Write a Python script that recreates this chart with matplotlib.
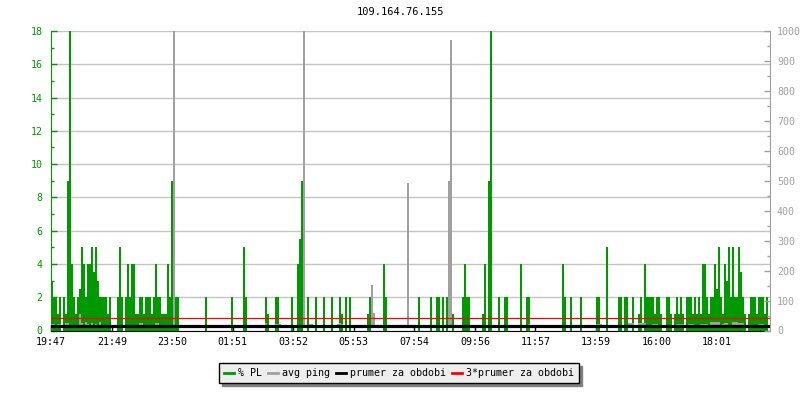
import matplotlib
matplotlib.use("Agg")
import matplotlib.pyplot as plt
from matplotlib.lines import Line2D
import numpy as np

plt.rcParams['font.family'] = ['DejaVu Sans Mono']
plt.rcParams['font.size'] = 7.2

title = "109.164.76.155"
tick_labels = ["19:47", "21:49", "23:50", "01:51", "03:52", "05:53",
               "07:54", "09:56", "11:57", "13:59", "16:00", "18:01"]
bin_minutes = 4          # one sample every 4 minutes, 24 h window

# % packet loss, one row = 30 samples (~2 hours)
pl_rows = [
    [3, 2, 2, 1, 2, 0, 2, 1, 9, 18, 4, 2, 1, 2, 2.5, 5, 4, 2, 4, 4, 5, 3.5, 5, 3, 2, 2, 2, 2, 1, 2],
    [0, 0, 0, 2, 5, 2, 0, 2, 4, 2, 4, 4, 1, 1, 2, 2, 1, 2, 2, 2, 1, 2, 4, 2, 2, 1, 1, 1, 4, 2],
    [9, 2, 2, 2, 0, 0, 0, 0, 0, 0, 0, 0, 0, 0, 0, 0, 0, 2, 0, 0, 0, 0, 0, 0, 0, 0, 0, 0, 0, 0],
    [2, 0, 0, 0, 0, 0, 5, 2, 0, 0, 0, 0, 0, 0, 0, 0, 0, 2, 1, 0, 0, 0, 2, 2, 0, 0, 0, 0, 0, 0],
    [2, 0, 0, 4, 5.5, 9, 0, 0, 2, 0, 0, 0, 2, 0, 0, 0, 2, 0, 0, 0, 2, 0, 0, 0, 2, 1, 0, 2, 0, 2],
    [0, 0, 0, 0, 0, 0, 0, 0, 1, 2, 0, 0, 0, 0, 0, 0, 4, 2, 0, 0, 0, 0, 0, 0, 0, 0, 0, 0, 0, 0],
    [0, 0, 0, 0, 2, 0, 0, 0, 0, 0, 2, 0, 0, 2, 2, 0, 2, 0, 2, 0, 0, 1, 0, 0, 0, 0, 2, 4, 2, 2],
    [0, 0, 0, 0, 0, 0, 1, 4, 0, 9, 18, 0, 0, 0, 2, 0, 0, 2, 2, 0, 0, 0, 0, 0, 0, 4, 0, 0, 2, 2],
    [0, 0, 0, 0, 0, 0, 0, 0, 0, 0, 0, 0, 0, 0, 0, 0, 4, 2, 0, 0, 2, 0, 0, 0, 0, 2, 0, 0, 0, 0],
    [0, 0, 0, 2, 2, 0, 0, 0, 5, 0, 0, 0, 0, 0, 2, 2, 0, 2, 2, 0, 0, 2, 0, 0, 1, 2, 0, 4, 2, 2],
    [2, 2, 1, 2, 2, 1, 0, 0, 2, 2, 1, 0, 1, 2, 1, 2, 1, 0, 2, 2, 2, 1, 2, 1, 2, 1, 4, 4, 2, 1],
    [2, 2, 4, 2.5, 5, 2, 1, 4, 3, 5, 2, 5, 2, 2, 5, 3.5, 2, 1, 0, 1, 2, 2, 2, 1, 2, 2, 2, 1, 2, 0],
]

# avg ping in ms, same sampling
ping_rows = [
    [22, 22, 20, 22, 22, 12, 12, 25, 25, 12, 15, 15, 15, 20, 55, 25, 20, 28, 22, 20, 25, 18, 22, 20, 28, 20, 18, 20, 15, 20],
    [18, 18, 15, 12, 12, 12, 12, 12, 12, 12, 12, 12, 12, 12, 25, 25, 12, 12, 12, 12, 12, 12, 25, 25, 12, 12, 12, 12, 12, 12],
    [20, 1000, 12, 12, 12, 12, 12, 12, 12, 12, 12, 12, 12, 12, 12, 19, 12, 12, 19, 12, 12, 12, 12, 12, 12, 12, 12, 12, 12, 12],
    [12, 19, 12, 12, 12, 12, 12, 12, 12, 12, 12, 12, 20, 12, 12, 12, 12, 25, 12, 12, 12, 12, 22, 22, 22, 12, 12, 12, 12, 12],
    [12, 12, 12, 12, 12, 12, 1000, 12, 12, 21, 21, 12, 12, 12, 12, 20, 20, 12, 12, 12, 12, 12, 20, 22, 25, 22, 12, 12, 12, 12],
    [12, 12, 12, 12, 12, 12, 12, 12, 12, 12, 153, 60, 12, 12, 12, 12, 20, 12, 12, 12, 12, 12, 12, 12, 12, 12, 12, 12, 493, 12],
    [12, 12, 12, 12, 12, 12, 12, 12, 12, 12, 12, 12, 12, 12, 12, 12, 12, 12, 12, 500, 970, 12, 12, 12, 12, 12, 12, 12, 12, 12],
    [12, 12, 12, 12, 12, 12, 12, 12, 12, 12, 12, 12, 12, 12, 12, 12, 12, 12, 12, 12, 19, 12, 12, 12, 12, 12, 12, 12, 12, 22],
    [12, 12, 12, 12, 12, 12, 12, 12, 12, 12, 12, 12, 12, 12, 12, 12, 12, 12, 12, 12, 12, 12, 12, 12, 12, 12, 12, 12, 12, 19],
    [12, 12, 12, 22, 22, 22, 12, 12, 12, 12, 12, 12, 12, 12, 12, 12, 12, 12, 12, 25, 25, 25, 12, 12, 25, 25, 25, 25, 12, 12],
    [12, 22, 22, 22, 12, 12, 12, 12, 12, 12, 12, 12, 12, 22, 22, 22, 22, 12, 12, 22, 22, 22, 12, 12, 12, 22, 22, 22, 22, 12],
    [28, 28, 30, 30, 30, 12, 22, 25, 25, 12, 12, 28, 28, 28, 25, 25, 25, 12, 19, 19, 19, 19, 12, 12, 22, 22, 22, 12, 12, 12],
]

avg_ping = 14            # prumer za obdobi
pl_max, ping_max = 18, 1000

GREEN = "#009900"
GRAY = "#a0a0a0"
GRID = "#c4c4c4"

pl = np.concatenate(pl_rows)
ping = np.concatenate(ping_rows)
edges = np.arange(len(pl) + 1) * bin_minutes
total = edges[-1]

# tick positions from the label clock times
start_h, start_m = map(int, tick_labels[0].split(":"))
ticks = []
for lab in tick_labels:
    h, m = map(int, lab.split(":"))
    ticks.append(((h * 60 + m) - (start_h * 60 + start_m)) % 1440)

fig = plt.figure(figsize=(8, 4), dpi=100)
ax = fig.add_axes([51 / 800, 1 - 330.5 / 400, 719 / 800, 299.5 / 400])
ax2 = ax.twinx()

ax.set_axisbelow(True)
ax.stairs(pl, edges, fill=True, color=GREEN, linewidth=0)
ax.set_xlim(0, total)
ax.set_ylim(0, pl_max)
ax.set_yticks(np.arange(0, pl_max + 1, 2))
ax.set_yticks(np.arange(1, pl_max, 2), minor=True)
ax.yaxis.grid(True, color=GRID, linewidth=1.0)
ax.set_xticks(ticks)
ax.set_xticklabels(tick_labels)

ax.tick_params(axis='y', which='both', direction='in', colors=GREEN, pad=6)
ax.tick_params(axis='y', which='major', length=4, width=1)
ax.tick_params(axis='y', which='minor', length=2.5, width=1)
ax.tick_params(axis='x', direction='in', length=4, width=1, colors='black', pad=4.5)
ax.spines['left'].set_color(GREEN)
ax.spines['bottom'].set_color('black')
for s in ['top', 'right']:
    ax.spines[s].set_visible(False)

# ping drawn as solid columns around the average line (the part under it is hidden)
ax2.stairs(ping, edges, baseline=avg_ping, fill=True, color=GRAY, linewidth=0)
ax2.axhline(avg_ping, color='black', linewidth=2.3)
ax2.axhline(3 * avg_ping, color='#ff0000', linewidth=0.9)
ax2.set_ylim(0, ping_max)
ax2.set_yticks(np.arange(0, ping_max + 1, 100))
ax2.set_yticks(np.arange(50, ping_max, 100), minor=True)
ax2.tick_params(axis='y', which='both', direction='in', colors=GRAY, pad=5)
ax2.tick_params(axis='y', which='major', length=4, width=1)
ax2.tick_params(axis='y', which='minor', length=2.5, width=1)
ax2.spines['right'].set_color(GRAY)
for s in ['top', 'left', 'bottom']:
    ax2.spines[s].set_visible(False)

fig.text(0.5, 1 - 12 / 400, title, ha='center', va='center', fontsize=7.5)

handles = [Line2D([], [], color=GREEN, lw=2),
           Line2D([], [], color=GRAY, lw=2),
           Line2D([], [], color='black', lw=2),
           Line2D([], [], color='#ff0000', lw=2)]
labels = ["% PL", "avg ping", "prumer za obdobi", "3*prumer za obdobi"]
fig.legend(handles, labels, loc='center', bbox_to_anchor=(399 / 800, 1 - 373 / 400),
           ncol=4, frameon=True, fancybox=False,
           shadow={'color': '#808080', 'alpha': 1},
           edgecolor='black', facecolor='#eeeeee', framealpha=1,
           handlelength=1.0, handletextpad=0.4, columnspacing=0.6,
           borderpad=0.5, fontsize=7.2)

fig.savefig("out.png", dpi=100)
